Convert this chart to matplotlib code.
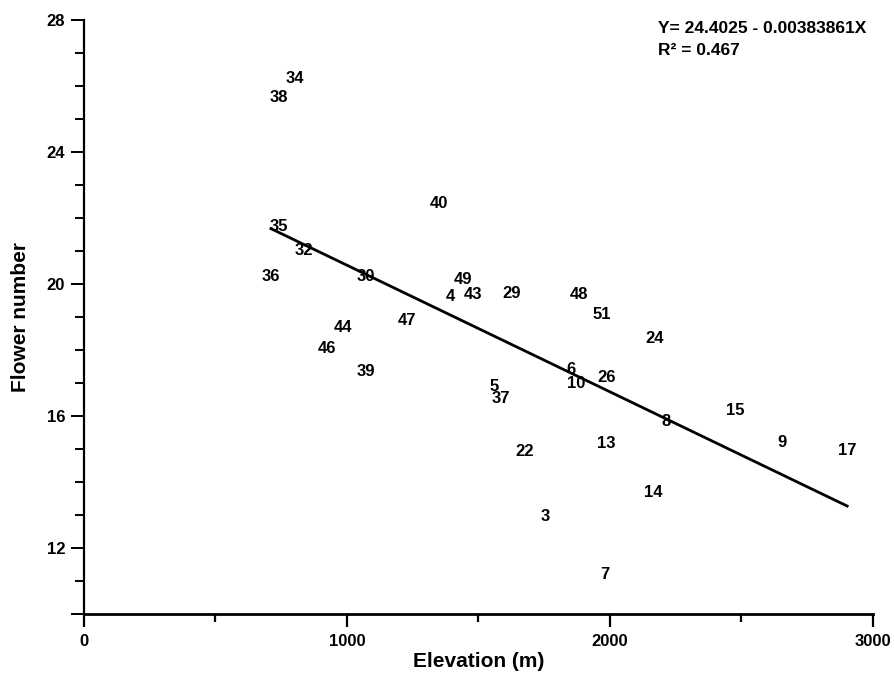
import matplotlib
matplotlib.use("Agg")
import matplotlib.pyplot as plt
from matplotlib.ticker import FixedLocator, MultipleLocator

plt.rcParams['font.family'] = ['Liberation Sans', 'DejaVu Sans']
plt.rcParams['font.weight'] = 'bold'

# site number, elevation (m), flower number
sites = ['34', '38', '35', '32', '36', '30', '44', '46', '39', '47',
         '40', '49', '4', '43', '29', '48', '51', '6', '10', '26',
         '5', '37', '22', '13', '14', '3', '7', '8', '24', '15',
         '9', '17']
elevation = [801, 742, 742, 836, 711, 1071, 986, 923, 1074, 1230,
             1350, 1442, 1395, 1480, 1625, 1882, 1969, 1851, 1872, 1989,
             1559, 1587, 1676, 1987, 2166, 1755, 1983, 2213, 2170, 2478,
             2655, 2903]
flowers = [26.27, 25.69, 21.78, 21.05, 20.27, 20.28, 18.72, 18.08, 17.39, 18.92,
           22.49, 20.17, 19.67, 19.72, 19.76, 19.72, 19.10, 17.45, 17.03, 17.20,
           16.93, 16.56, 14.95, 15.21, 13.71, 13.00, 11.23, 15.86, 18.39, 16.19,
           15.24, 14.99]

intercept = 24.4025
slope = -0.00383861
r2 = 0.467

fig = plt.figure(figsize=(8.95, 6.79), dpi=100)
ax = fig.add_axes([0.09385, 0.09646, 0.88123, 0.87408])

for s, x, y in zip(sites, elevation, flowers):
    ax.text(x, y, s, ha='center', va='center_baseline', fontsize=12,
            fontweight='bold', clip_on=False)

x0, x1 = min(elevation), max(elevation)
ax.plot([x0, x1], [intercept + slope * x0, intercept + slope * x1],
        color='black', lw=2)

ax.text(2184, 27.80, 'Y= 24.4025 - 0.00383861X', fontsize=12.5,
        fontweight='bold', va='center_baseline', ha='left')
ax.text(2184, 27.13, 'R\u00b2 = %.3f' % r2, fontsize=12.5,
        fontweight='bold', va='center_baseline', ha='left')

ax.set_xlim(0, 3000)
ax.set_ylim(10, 28)

ax.spines['top'].set_visible(False)
ax.spines['right'].set_visible(False)
ax.spines['left'].set_linewidth(1.6)
ax.spines['bottom'].set_linewidth(2.0)

ax.yaxis.set_major_locator(FixedLocator([10, 12, 16, 20, 24, 28]))
ax.set_yticklabels(['', '12', '16', '20', '24', '28'])
ax.yaxis.set_minor_locator(MultipleLocator(1))
ax.xaxis.set_major_locator(FixedLocator([0, 1000, 2000, 3000]))
ax.xaxis.set_minor_locator(MultipleLocator(500))

ax.tick_params(axis='y', which='major', length=9.5, width=1.4, pad=4, labelsize=12)
ax.tick_params(axis='y', which='minor', length=6.5, width=1.4)
ax.tick_params(axis='x', which='major', length=9, width=1.6, pad=6, labelsize=12)
ax.tick_params(axis='x', which='minor', length=6, width=1.6)
for lab in ax.get_xticklabels() + ax.get_yticklabels():
    lab.set_fontweight('bold')

ax.set_xlabel('Elevation (m)', fontsize=15, fontweight='bold', labelpad=2)
ax.set_ylabel('Flower number', fontsize=15, fontweight='bold', labelpad=12)

fig.savefig('out.png', dpi=100)
